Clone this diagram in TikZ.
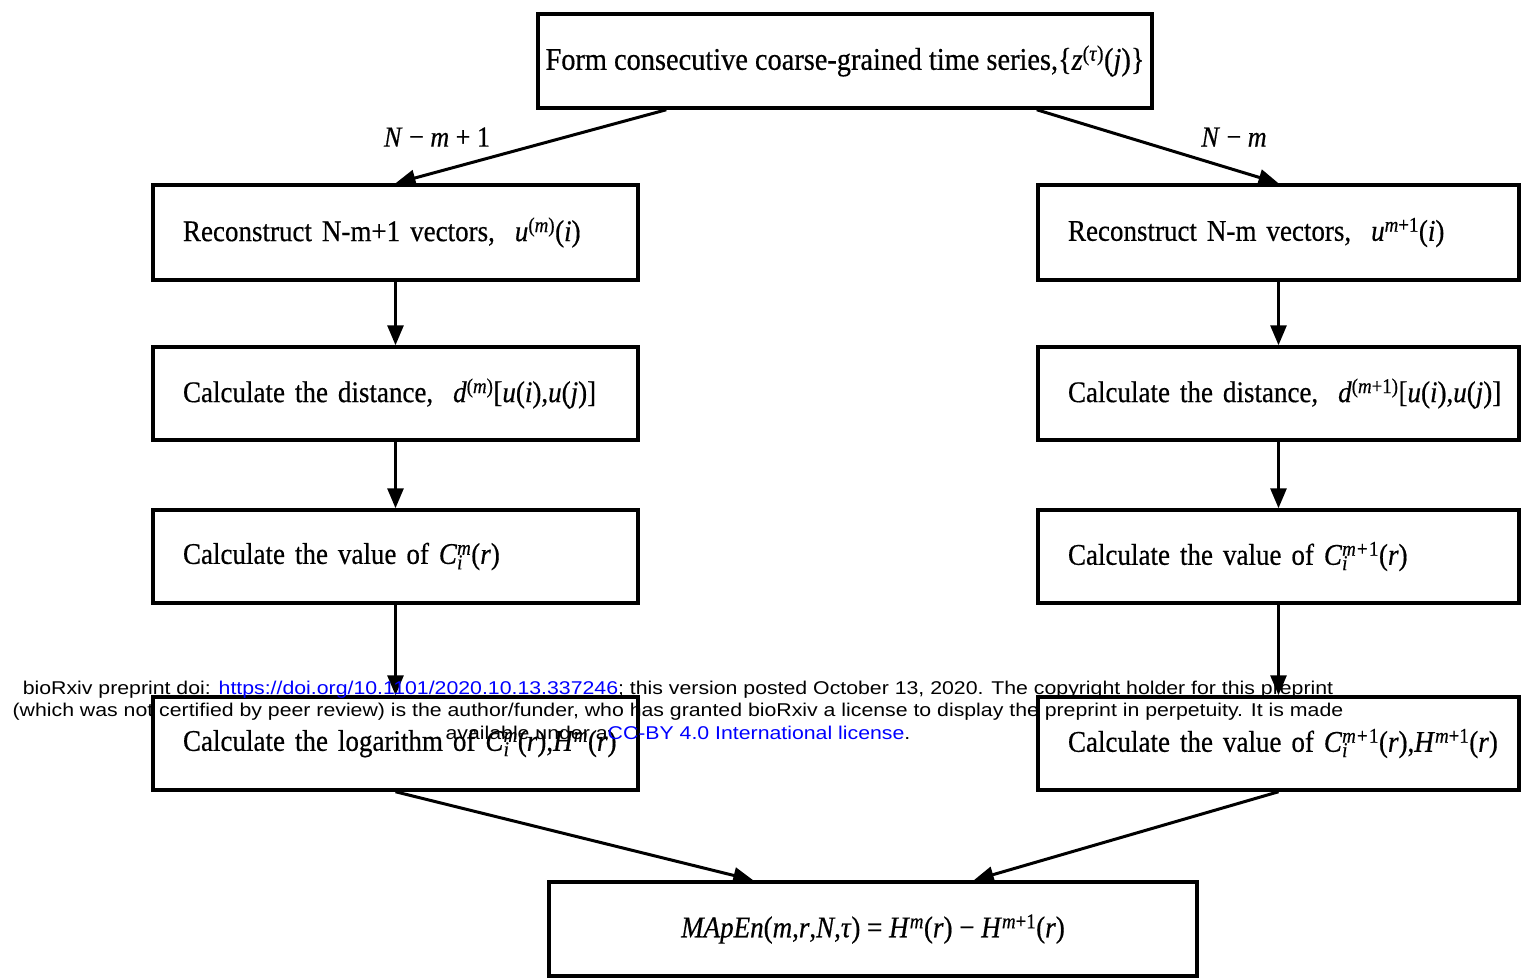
\documentclass[tikz,border=0pt]{standalone}
\usepackage{fontspec}
\setmainfont[FakeStretch=0.9,FakeBold=0.5]{Liberation Serif}
\newfontfamily\wmfont[FakeStretch=1.15]{Liberation Sans}
\usetikzlibrary{arrows.meta}
\definecolor{linkblue}{RGB}{0,0,255}
\newcommand\vi[1]{\textit{#1}}
\newcommand\ssup[2]{\textit{C}\rlap{\textsubscript{\textit{#1}}}\textsuperscript{\textit{#2}}}
\begin{document}
\begin{tikzpicture}[x=1pt,y=-1pt,
  box/.style={draw, line width=3.5pt, minimum height=94pt, inner xsep=30pt, inner ysep=0pt,
    font=\fontsize{30}{32}\selectfont, align=left},
  lbox/.style={box, text width=425pt},
  rbox/.style={box, text width=421pt},
  arr/.style={line width=3pt, -{Triangle[length=20pt,width=16pt]}},
  lab/.style={font=\fontsize{29}{30}\selectfont},
  wm/.style={font=\wmfont\fontsize{18.5}{21}\selectfont, align=center, inner sep=0pt}]
\useasboundingbox (0,0) rectangle (1521,978);
\fill[white] (0,0) rectangle (1521,978);

\node[box, minimum width=614pt, inner xsep=4pt, align=center, font=\fontsize{31.5}{33}\selectfont] (top) at (845,61)
  {Form consecutive coarse-grained time series,\{\vi{z}\textsuperscript{(\vi{τ})}(\vi{j})\}};

\node[lbox, minimum height=95pt] (l1) at (395.5,232.5) {\mbox{Reconstruct N-m+1 vectors,\ \ \vi{u}\textsuperscript{(\vi{m})}(\vi{i})}};
\node[lbox, minimum height=93pt] (l2) at (395.5,393.5) {\mbox{Calculate the distance,\ \ \vi{d}\textsuperscript{(\vi{m})}[\vi{u}(\vi{i}),\vi{u}(\vi{j})]}};
\node[lbox, minimum height=93pt] (l3) at (395.5,556.5) {\mbox{Calculate the value of \ssup{i}{m}(\vi{r})}};
\node[lbox, minimum height=93pt] (l4) at (395.5,743.5) {\mbox{Calculate the logarithm of \ssup{i}{m}(\vi{r}),\vi{H}\textsuperscript{\vi{m}}(\vi{r})}};

\node[rbox, minimum height=95pt] (r1) at (1278.5,232.5) {\mbox{Reconstruct N-m vectors,\ \ \vi{u}\textsuperscript{\vi{m}+1}(\vi{i})}};
\node[rbox, minimum height=93pt] (r2) at (1278.5,393.5) {\mbox{Calculate the distance,\ \ \vi{d}\textsuperscript{(\vi{m}+1)}[\vi{u}(\vi{i}),\vi{u}(\vi{j})]}};
\node[rbox, minimum height=93pt] (r3) at (1278.5,556.5) {\mbox{Calculate the value of \ssup{i}{m+}\textsuperscript{1}(\vi{r})}};
\node[rbox, minimum height=93pt] (r4) at (1278.5,743.5) {\mbox{Calculate the value of \ssup{i}{m+}\textsuperscript{1}(\vi{r}),\vi{H}\textsuperscript{\vi{m}+1}(\vi{r})}};

\node[box, minimum width=648pt, inner xsep=4pt, align=center] (bot) at (873,929)
  {\vi{MApEn}(\vi{m},\vi{r},\vi{N},\vi{τ}) = \vi{H}\textsuperscript{\vi{m}}(\vi{r}) − \vi{H}\textsuperscript{\vi{m}+1}(\vi{r})};

\draw[arr] ([xshift=130pt]top.south west) -- (l1.north);
\draw[arr] ([xshift=-117pt]top.south east) -- (r1.north);
\node[lab] (labl) at (437,137) {\vi{N} − \vi{m} + 1};
\node[lab] (labr) at (1234,137) {\vi{N} − \vi{m}};

\draw[arr] (l1) -- (l2);
\draw[arr] (l2) -- (l3);
\draw[arr] (l3) -- (l4);
\draw[arr] (r1) -- (r2);
\draw[arr] (r2) -- (r3);
\draw[arr] (r3) -- (r4);
\draw[arr] (l4.south) -- ([xshift=206pt]bot.north west);
\draw[arr] (r4.south) -- ([xshift=-225pt]bot.north east);

\node[wm] (wm1) at (678,690) {bioRxiv preprint doi: \textcolor{linkblue}{https://doi.org/10.1101/2020.10.13.337246}; this version posted October 13, 2020. The copyright holder for this preprint};
\node[wm] (wm2) at (678,712) {(which was not certified by peer review) is the author/funder, who has granted bioRxiv a license to display the preprint in perpetuity. It is made};
\node[wm] (wm3) at (678,733) {available under a\textcolor{linkblue}{CC-BY 4.0 International license}.};
\end{tikzpicture}
\end{document}
